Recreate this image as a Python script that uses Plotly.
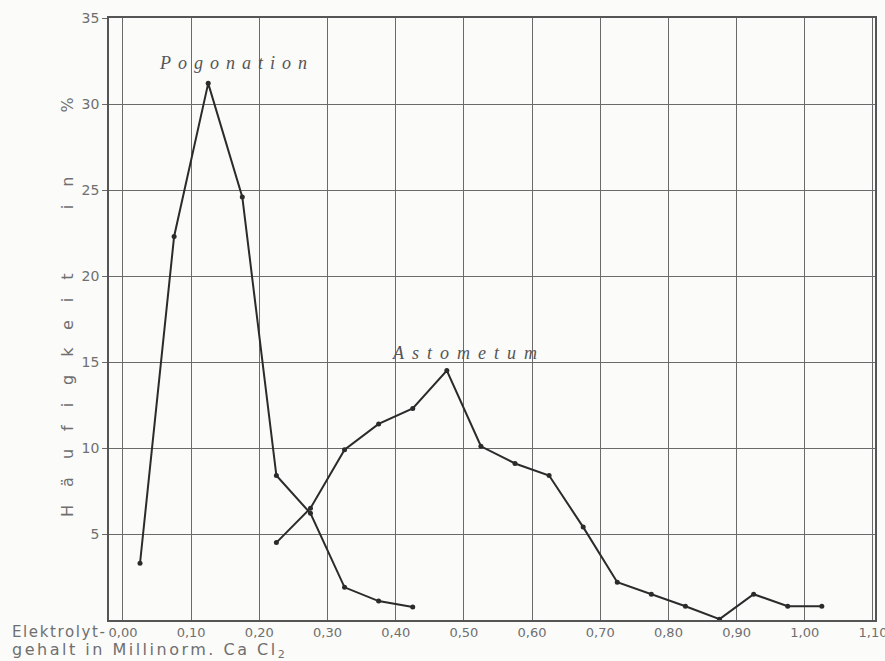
import plotly.graph_objects as go

# Electrolyte content (millinormal CaCl2) – class midpoints
pogonation_x = [0.025, 0.075, 0.125, 0.175, 0.225, 0.275, 0.325, 0.375, 0.425]
pogonation_y = [3.3, 22.3, 31.2, 24.6, 8.4, 6.2, 1.9, 1.1, 0.75]

astometum_x = [0.225, 0.275, 0.325, 0.375, 0.425, 0.475, 0.525, 0.575, 0.625,
               0.675, 0.725, 0.775, 0.825, 0.875, 0.925, 0.975, 1.025]
astometum_y = [4.5, 6.5, 9.9, 11.4, 12.3, 14.5, 10.1, 9.1, 8.4,
               5.4, 2.2, 1.5, 0.8, 0.05, 1.5, 0.8, 0.8]

x_tickvals = [0.0, 0.1, 0.2, 0.3, 0.4, 0.5, 0.6, 0.7, 0.8, 0.9, 1.0, 1.1]
x_ticktext = ["0,00", "0,10", "0,20", "0,30", "0,40", "0,50", "0,60",
              "0,70", "0,80", "0,90", "1,00", "1,10"]
y_tickvals = [5, 10, 15, 20, 25, 30, 35]

line_col = "#2b2b2b"
grid_col = "#6a6a6a"
text_col = "#6f6f6f"
sans = "DejaVu Sans, sans-serif"
serif = "Liberation Serif, DejaVu Serif, serif"

fig = go.Figure()
for xs, ys in [(pogonation_x, pogonation_y), (astometum_x, astometum_y)]:
    fig.add_trace(go.Scatter(
        x=xs, y=ys, mode="lines+markers",
        line=dict(color=line_col, width=2),
        marker=dict(color=line_col, size=5),
        showlegend=False, hoverinfo="skip",
    ))

fig.update_layout(
    width=885, height=661,
    margin=dict(l=109, r=10, t=18, b=41, autoexpand=False),
    paper_bgcolor="#fbfbfa",
    plot_bgcolor="#fbfbfa",
    font=dict(family=sans, color=text_col),
)

fig.update_xaxes(
    range=[-0.0205, 1.103],
    tickvals=x_tickvals, ticktext=x_ticktext,
    tickfont=dict(size=13, color=text_col),
    ticklabeloverflow="allow", automargin=False,
    showgrid=True, gridcolor=grid_col, gridwidth=1,
    showline=True, linecolor="#555555", linewidth=1.5, mirror=True,
    ticks="", zeroline=False,
)
fig.update_yaxes(
    range=[0, 35],
    tickvals=y_tickvals,
    tickfont=dict(size=14, color=text_col),
    automargin=False,
    showgrid=True, gridcolor=grid_col, gridwidth=1,
    showline=True, linecolor="#555555", linewidth=1.5, mirror=True,
    ticks="outside", ticklen=5, tickcolor=grid_col,
    zeroline=False,
)

# Series names written beside the curves
fig.add_annotation(
    x=0.167, y=32.4, xref="x", yref="y", showarrow=False,
    text='<i><span style="letter-spacing:7px">Pogonation</span></i>',
    font=dict(family=serif, size=18, color="#555555"),
)
fig.add_annotation(
    x=0.507, y=15.5, xref="x", yref="y", showarrow=False,
    text='<i><span style="letter-spacing:8px">Astometum</span></i>',
    font=dict(family=serif, size=18, color="#555555"),
)

# Vertical axis title with spaced letters
fig.add_annotation(
    x=-0.0535, y=0.535, xref="paper", yref="paper", showarrow=False,
    textangle=-90, xanchor="center", yanchor="middle",
    text='<span style="letter-spacing:18px">Häufigkeit  in  %</span>',
    font=dict(family=sans, size=16, color=text_col),
)

# Horizontal axis title in the lower left corner, two lines
fig.add_annotation(
    x=-0.129, y=-0.02, xref="paper", yref="paper", showarrow=False,
    xanchor="left", yanchor="middle",
    text='<span style="letter-spacing:1.6px">Elektrolyt-</span>',
    font=dict(family=sans, size=15, color=text_col),
)
fig.add_annotation(
    x=-0.129, y=-0.051, xref="paper", yref="paper", showarrow=False,
    xanchor="left", yanchor="middle",
    text='<span style="letter-spacing:2.5px">gehalt in Millinorm. Ca Cl<sub>2</sub></span>',
    font=dict(family=sans, size=16, color=text_col),
)

fig.write_html("out.html")
